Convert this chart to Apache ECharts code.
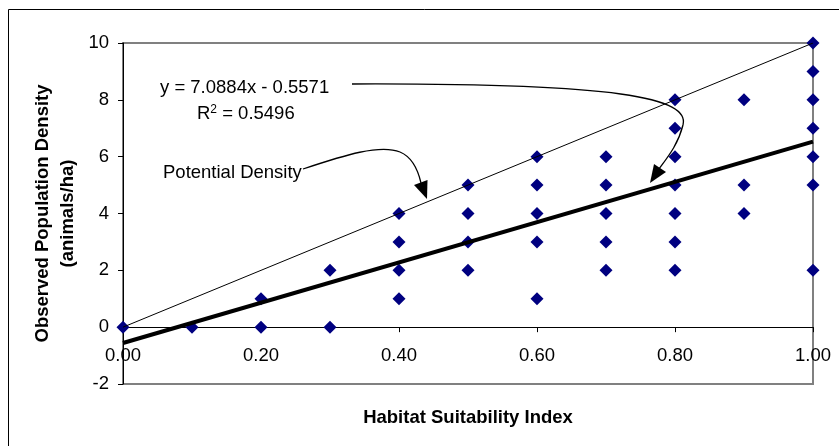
<!DOCTYPE html>
<html>
<head>
<meta charset="utf-8">
<script src="https://cdn.jsdelivr.net/npm/echarts@6/dist/echarts.min.js"></script>
<style>html,body{margin:0;padding:0;background:#fff}#c{width:839px;height:446px}</style>
</head>
<body>
<div id="c"></div>
<script>
// Observed data (Habitat Suitability Index, Observed Population Density)
const hsi     = [0.0, 0.1, 0.2, 0.2, 0.3, 0.3, 0.4, 0.4, 0.4, 0.4, 0.5, 0.5, 0.5, 0.5,
                 0.6, 0.6, 0.6, 0.6, 0.6, 0.7, 0.7, 0.7, 0.7, 0.7,
                 0.8, 0.8, 0.8, 0.8, 0.8, 0.8, 0.8, 0.9, 0.9, 0.9,
                 1.0, 1.0, 1.0, 1.0, 1.0, 1.0, 1.0];
const density = [0, 0, 1, 0, 2, 0, 4, 3, 2, 1, 5, 4, 3, 2,
                 6, 5, 4, 3, 1, 6, 5, 4, 3, 2,
                 8, 7, 6, 5, 4, 3, 2, 8, 5, 4,
                 10, 9, 8, 7, 6, 5, 2];
// Potential density line
const potentialX = [0, 1];
const potentialY = [0, 10];
// Linear trend line  y = 7.0884x - 0.5571
const trendX = [0, 1];
const trendY = [-0.5571, 6.5313];
// Axis ticks
const xTicks = [0.0, 0.2, 0.4, 0.6, 0.8, 1.0];
const yTicks = [-2, 0, 2, 4, 6, 8, 10];

const FONT = 'Liberation Sans, Arial, sans-serif';
const FS = 18.5;
const chart = echarts.init(document.getElementById('c'), null, {renderer: 'canvas'});

const option = {
  animation: false,
  backgroundColor: '#fff',
  grid: {
    left: 123, right: 26, top: 43, bottom: 62,
    outerBoundsMode: 'none', containLabel: false,
    show: true, borderColor: '#808080', borderWidth: 2
  },
  xAxis: {
    type: 'value',
    min: xTicks[0], max: xTicks[xTicks.length - 1], interval: 0.2,
    axisLine: {onZero: true, lineStyle: {color: '#000', width: 1}},
    axisTick: {show: true, inside: false, length: 5, lineStyle: {color: '#000'}},
    axisLabel: {margin: -38, color: '#000', fontFamily: FONT, fontSize: FS,
      formatter: v => v.toFixed(2)},
    splitLine: {show: false},
    name: 'Habitat Suitability Index',
    nameLocation: 'middle', nameGap: 24, nameMoveOverlap: false,
    nameTextStyle: {fontFamily: FONT, fontSize: FS, fontWeight: 'bold', color: '#000'}
  },
  yAxis: {
    type: 'value',
    min: yTicks[0], max: yTicks[yTicks.length - 1], interval: 2,
    axisLine: {show: true, onZero: false, lineStyle: {color: '#000', width: 1}},
    axisTick: {show: true, inside: false, length: 5, lineStyle: {color: '#000'}},
    axisLabel: {margin: 14, color: '#000', fontFamily: FONT, fontSize: FS},
    splitLine: {show: false}
  },
  series: [
    {
      type: 'scatter',
      data: hsi.map((x, i) => [x, density[i]]),
      symbol: 'diamond', symbolSize: 13,
      itemStyle: {color: '#000080', opacity: 1},
      z: 2
    },
    {
      type: 'line',
      data: potentialX.map((x, i) => [x, potentialY[i]]),
      showSymbol: false, symbol: 'none',
      lineStyle: {color: '#000', width: 1},
      z: 3
    },
    {
      type: 'line',
      data: trendX.map((x, i) => [x, trendY[i]]),
      showSymbol: false, symbol: 'none',
      lineStyle: {color: '#000', width: 4},
      z: 3
    }
  ],
  graphic: [
    {type: 'rect', shape: {x: 8.5, y: 9.5, width: 840, height: 450},
     style: {fill: null, stroke: '#000', lineWidth: 1}, z: 0, silent: true},
    {type: 'text', rotation: Math.PI / 2, x: 55.5, y: 213.5,
     style: {text: 'Observed Population Density\n(animals/ha)', fill: '#000',
       font: 'bold ' + FS + 'px ' + FONT, align: 'center', verticalAlign: 'middle', lineHeight: 25.5}},
    {type: 'text', x: 160, y: 88,
     style: {text: 'y = 7.0884x - 0.5571', fill: '#000', font: FS + 'px ' + FONT,
       align: 'left', verticalAlign: 'middle'}},
    {type: 'text', x: 197, y: 114,
     style: {text: '{n|R}{s|2}{n| = 0.5496}', verticalAlign: 'middle', align: 'left',
       rich: {
         n: {fontFamily: FONT, fontSize: FS, fill: '#000'},
         s: {fontFamily: FONT, fontSize: 12, fill: '#000', verticalAlign: 'top', padding: [0, 0, 8, 0]}
       }}},
    {type: 'text', x: 163, y: 173,
     style: {text: 'Potential Density', fill: '#000', font: FS + 'px ' + FONT,
       align: 'left', verticalAlign: 'middle'}},
    // upper arrow
    {type: 'bezierCurve', shape: {x1: 352, y1: 84, x2: 683, y2: 125, cpx1: 620, cpy1: 83, cpx2: 690, cpy2: 98},
     style: {stroke: '#000', lineWidth: 1.3, fill: null}, z: 10},
    {type: 'bezierCurve', shape: {x1: 683, y1: 125, x2: 659, y2: 169, cpx1: 678, cpy1: 145, cpx2: 667, cpy2: 158},
     style: {stroke: '#000', lineWidth: 1.3, fill: null}, z: 10},
    {type: 'polygon', shape: {points: [[650, 183], [666, 172], [654, 164]]},
     style: {fill: '#000'}, z: 10},
    // lower arrow
    {type: 'bezierCurve', shape: {x1: 303, y1: 169, x2: 400, y2: 152, cpx1: 345, cpy1: 155, cpx2: 380, cpy2: 144},
     style: {stroke: '#000', lineWidth: 1.3, fill: null}, z: 10},
    {type: 'bezierCurve', shape: {x1: 400, y1: 152, x2: 421, y2: 183, cpx1: 412, cpy1: 157, cpx2: 418, cpy2: 170},
     style: {stroke: '#000', lineWidth: 1.3, fill: null}, z: 10},
    {type: 'polygon', shape: {points: [[427, 199], [427.5, 180], [414, 185]]},
     style: {fill: '#000'}, z: 10}
  ]
};
chart.setOption(option);
</script>
</body>
</html>
